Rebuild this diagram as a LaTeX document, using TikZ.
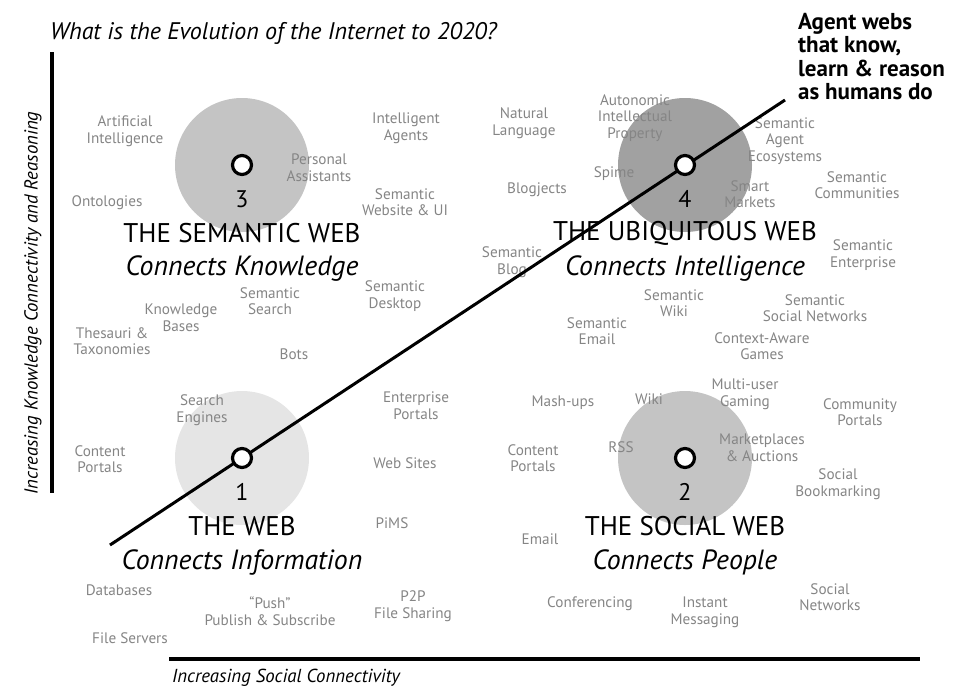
\documentclass[tikz,border=0pt]{standalone}
\usepackage{fontspec}
\setmainfont{PT Sans}
\usetikzlibrary{positioning}
\definecolor{labelgrey}{gray}{0.52}
\definecolor{webone}{gray}{0.90}
\definecolor{webtwo}{gray}{0.77}
\definecolor{webthree}{gray}{0.77}
\definecolor{webfour}{gray}{0.63}
\tikzset{
  lbl/.style={text=labelgrey, font=\fontsize{15.2}{16.6}\selectfont, align=center, inner sep=0pt},
  webtitle/.style={font=\fontsize{27}{30}\selectfont, inner sep=0pt},
  webtag/.style={font=\fontsize{27.8}{30}\selectfont\itshape, inner sep=0pt},
  webnum/.style={font=\fontsize{24}{26}\selectfont, inner sep=0pt},
  axislbl/.style={font=\fontsize{18.8}{20}\selectfont\itshape, inner sep=0pt},
  marker/.style={circle, draw=black, fill=white, line width=3.2pt, minimum size=19pt, inner sep=0pt},
  axisline/.style={line width=4pt},
}

\begin{document}
\begin{tikzpicture}[x=1pt, y=-1pt]
			%%%%% START %%%%%
			\useasboundingbox (0,0) rectangle (966,689);
			
			\node[font=\fontsize{24}{26}\selectfont\itshape, anchor=west, inner sep=0pt] (title) at (50,33) {What is the Evolution of the Internet to 2020?};
			
			% axes
			\draw[axisline] (52,52) -- (52,493);
			\draw[axisline] (169,659) -- (920,659);
			\node[axislbl, rotate=90] (yaxis) at (33,303) {Increasing Knowledge Connectivity and Reasoning};
			\node[axislbl, anchor=west] (xaxis) at (172,678) {Increasing Social Connectivity};
			
			% the four webs
			\fill[webthree] (242,165) circle (67);
			\fill[webfour] (685,165) circle (67);
			\fill[webone] (242,458) circle (67);
			\fill[webtwo] (685,458) circle (67);
			
			\node[webnum] (n3) at (242,199) {3};
			\node[webnum] (n4) at (685,199) {4};
			\node[webnum] (n1) at (242,492) {1};
			\node[webnum] (n2) at (685,492) {2};
			
			\node[webtitle] (semweb) at (242,233) {THE SEMANTIC WEB};
			\node[webtag] (semtag) at (242,269) {Connects Knowledge};
			\node[webtitle] (ubiweb) at (685,233) {THE UBIQUITOUS WEB};
			\node[webtag] (ubitag) at (685,269) {Connects Intelligence};
			\node[webtitle] (web) at (242,526) {THE WEB};
			\node[webtag] (webtag) at (242,562) {Connects Information};
			\node[webtitle] (socweb) at (685,526) {THE SOCIAL WEB};
			\node[webtag] (soctag) at (685,562) {Connects People};
			
			% grey labels
			\node[lbl] (ai) at (125,131) {Artificial\\Intelligence};
			\node[lbl] (agents) at (406,128) {Intelligent\\Agents};
			\node[lbl] (assist) at (319,168) {Personal\\Assistants};
			\node[lbl] (onto) at (107,203) {Ontologies};
			\node[lbl] (site) at (405,202) {Semantic\\Website \& UI};
			\node[lbl] (natlang) at (524,123) {Natural\\Language};
			\node[lbl] (aip) at (635,118) {Autonomic\\Intellectual\\Property};
			\node[lbl] (ecosys) at (785,141) {Semantic\\Agent\\Ecosystems};
			\node[lbl] (spime) at (614,174) {Spime};
			\node[lbl] (blogj) at (537,190) {Blogjects};
			\node[lbl] (smart) at (750,194) {Smart\\Markets};
			\node[lbl] (semcom) at (857,185) {Semantic\\Communities};
			\node[lbl] (semblog) at (512,262) {Semantic\\Blog};
			\node[lbl] (sement) at (863,255) {Semantic\\Enterprise};
			\node[lbl] (semsearch) at (270,301) {Semantic\\Search};
			\node[lbl] (semdesk) at (395,296) {Semantic\\Desktop};
			\node[lbl] (kbases) at (181,318) {Knowledge\\Bases};
			\node[lbl] (thes) at (112,341) {Thesauri \&\\Taxonomies};
			\node[lbl] (bots) at (294,354) {Bots};
			\node[lbl] (semwiki) at (674,303) {Semantic\\Wiki};
			\node[lbl] (semsoc) at (815,308) {Semantic\\Social Networks};
			\node[lbl] (sememail) at (597,331) {Semantic\\Email};
			\node[lbl] (games) at (762,346) {Context-Aware\\Games};
			\node[lbl] (engines) at (202,410) {Search\\Engines};
			\node[lbl] (entport) at (416,406) {Enterprise\\Portals};
			\node[lbl] (mashups) at (563,403) {Mash-ups};
			\node[lbl] (wiki) at (649,399) {Wiki};
			\node[lbl] (multi) at (745,394) {Multi-user\\Gaming};
			\node[lbl] (community) at (860,412) {Community\\Portals};
			\node[lbl] (contentA) at (100,459) {Content\\Portals};
			\node[lbl] (websites) at (405,463) {Web Sites};
			\node[lbl] (contentB) at (533,458) {Content\\Portals};
			\node[lbl] (rss) at (621,447) {RSS};
			\node[lbl] (market) at (762,448) {Marketplaces\\\& Auctions};
			\node[lbl] (bookmark) at (838,484) {Social\\Bookmarking};
			\node[lbl] (pims) at (392,523) {PiMS};
			\node[lbl] (email) at (540,539) {Email};
			\node[lbl] (dbases) at (119,590) {Databases};
			\node[lbl] (push) at (270,611) {``Push''\\Publish \& Subscribe};
			\node[lbl] (ptp) at (413,606) {P2P\\File Sharing};
			\node[lbl] (conf) at (590,604) {Conferencing};
			\node[lbl] (im) at (705,612) {Instant\\Messaging};
			\node[lbl] (socnet) at (830,597) {Social\\Networks};
			\node[lbl] (fileserv) at (130,638) {File Servers};
			
			% evolution line
			\coordinate (start) at (110,545);
			\coordinate (finish) at (785,100);
			\draw[line width=3pt] (start) -- (finish);
			\node[marker] (m3) at (242,165) {};
			\node[marker] (m4) at (685,165) {};
			\node[marker] (m1) at (242,458) {};
			\node[marker] (m2) at (685,458) {};
			
			\node[font=\fontsize{23}{23.3}\selectfont\bfseries, align=left, anchor=north west, inner sep=0pt] (agentwebs) at (798,13) {Agent webs\\that know,\\learn \& reason\\as humans do};
			%%%%% END %%%%%
\end{tikzpicture}
\end{document}
